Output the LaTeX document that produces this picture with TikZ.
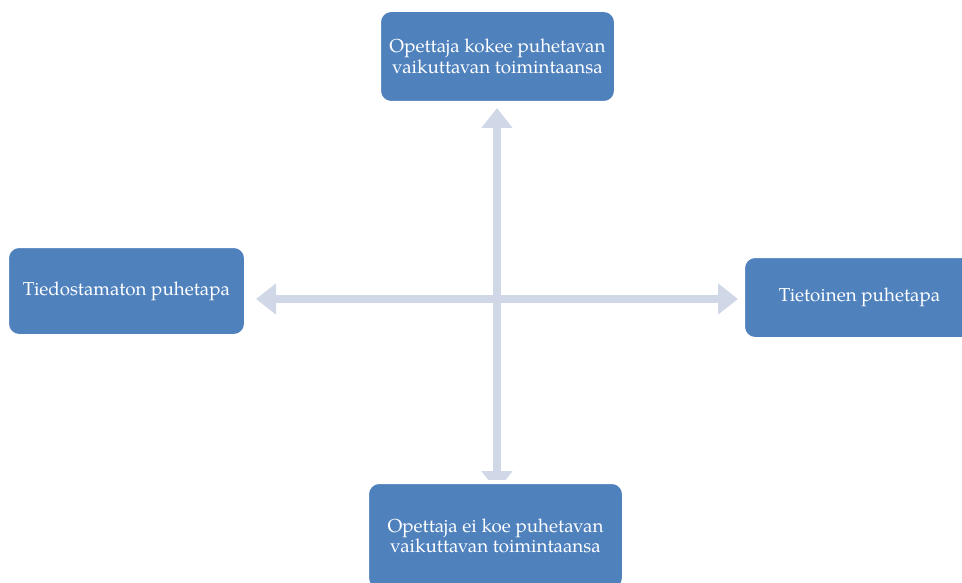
\documentclass[tikz,border=0pt]{standalone}
\usepackage{fontspec}
\setmainfont{TeX Gyre Pagella}
\usetikzlibrary{arrows.meta,backgrounds}
\definecolor{boxblue}{HTML}{4F81BD}
\definecolor{arrowgray}{RGB}{208,216,232}
\begin{document}
\begin{tikzpicture}[x=1pt,y=-1pt,
  box/.style={fill=boxblue, draw=white, line width=4pt, rounded corners=12pt,
    text=white, align=center, inner sep=0pt, outer sep=0pt,
    font=\fontsize{18.8}{20.5}\selectfont},
  link/.style={draw=arrowgray, line width=8pt,
    {Triangle[width=30pt,length=20pt]}-{Triangle[width=30pt,length=20pt]}}]
\useasboundingbox (0,0) rectangle (962,583);
\clip (0,0) rectangle (962,583);
\coordinate (cross) at (497,299);
\node[box, minimum width=237pt, minimum height=93pt] (top) at (497.5,56.5)
  {Opettaja kokee puhetavan\\vaikuttavan toimintaansa};
\node[box, minimum width=239pt, minimum height=90pt] (left) at (126.5,291)
  {Tiedostamaton puhetapa};
\node[box, minimum width=233pt, minimum height=83pt] (right) at (859.5,297.5)
  {Tietoinen puhetapa};
\node[box, minimum width=257pt, minimum height=108pt] (bot) at (495.5,536)
  {Opettaja ei koe puhetavan\\vaikuttavan toimintaansa};
\begin{pgfonlayer}{background}
\draw[link, shorten <=-9pt, shorten >=5pt] (cross |- bot.north) -- (cross |- top.south);
\draw[link, shorten <=10pt, shorten >=5pt] (cross -| left.east) -- (cross -| right.west);
\end{pgfonlayer}
\end{tikzpicture}
\end{document}
